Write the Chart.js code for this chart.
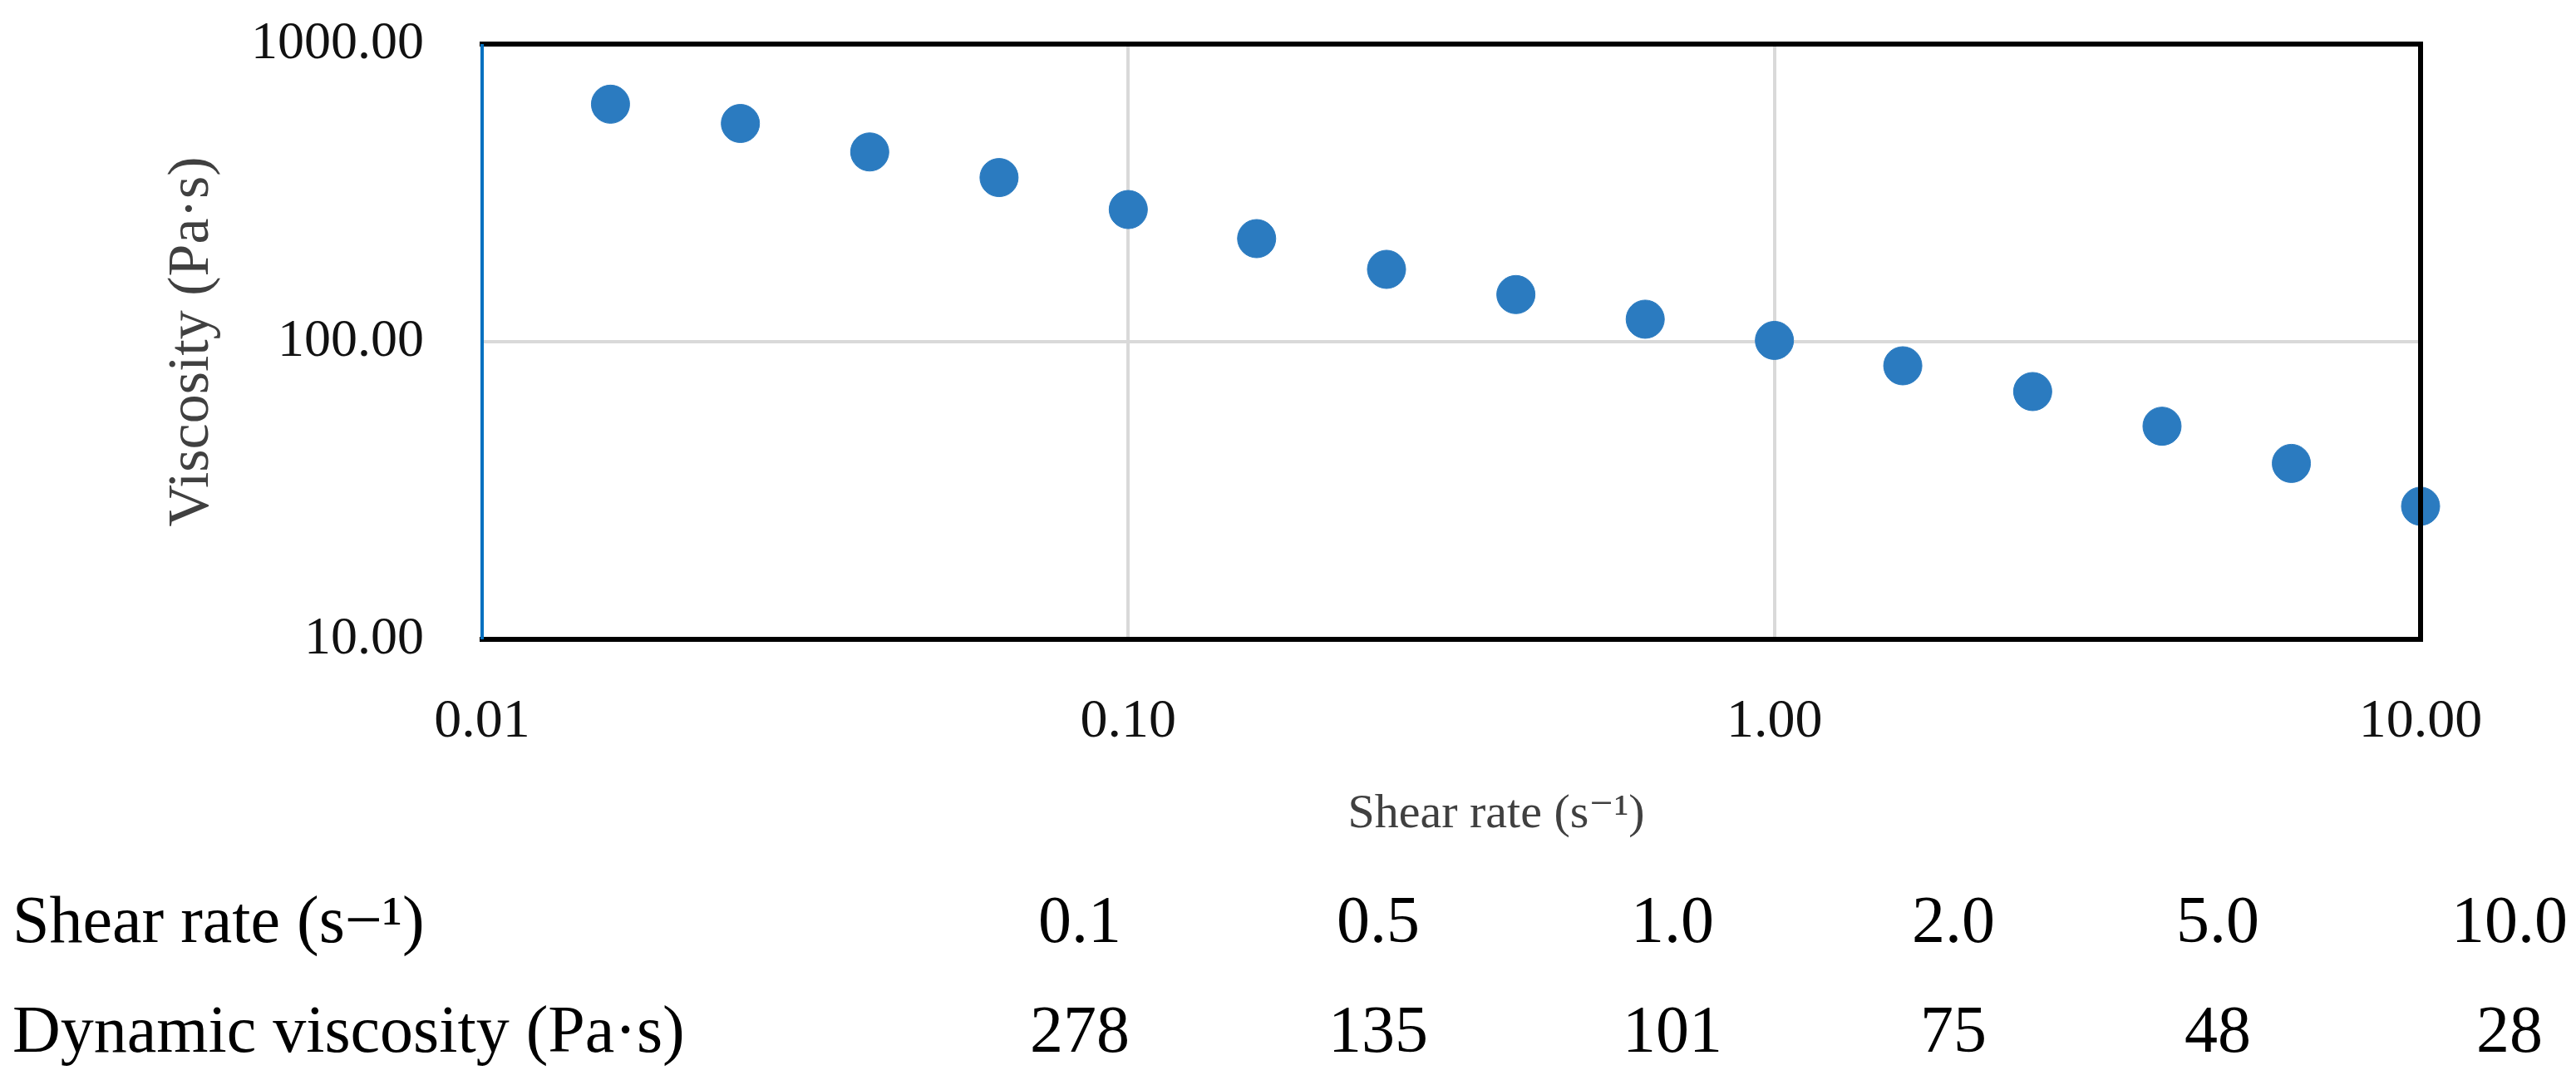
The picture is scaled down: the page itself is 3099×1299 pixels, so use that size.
<!DOCTYPE html>
<html>
<head>
<meta charset="utf-8">
<script src="https://cdn.jsdelivr.net/npm/chart.js@4.4.1/dist/chart.umd.min.js"></script>
<style>
  html, body { margin: 0; padding: 0; background: #fff; }
  #wrap { width: 3099px; height: 1299px; position: relative; }
</style>
</head>
<body>
<div id="wrap"><canvas id="chart"></canvas></div>
<script>
const shearRates = [0.0158, 0.0251, 0.0398, 0.0631, 0.1, 0.158, 0.251, 0.398, 0.631, 1, 1.58, 2.51, 3.98, 6.31, 10];
const viscosities = [628, 541, 434, 356, 278, 222, 175, 144, 119, 101, 83, 68, 52, 39, 28];

const xTicks = [0.01, 0.1, 1, 10];
const yTicks = [10, 100, 1000];

// table under the chart
const tableRates = ["0.1", "0.5", "1.0", "2.0", "5.0", "10.0"];
const tableViscosity = ["278", "135", "101", "75", "48", "28"];
const rowLabels = ["Shear rate (s\u2212\u00b9)", "Dynamic viscosity (Pa\u00b7s)"];
const xTitle = "Shear rate (s\u207b\u00b9)";

const serif = "'Liberation Serif', 'DejaVu Serif', serif";

const framePlugin = {
  id: "frame",
  afterDatasetsDraw(chart) {
    const { ctx, chartArea: a } = chart;
    ctx.save();
    ctx.lineCap = "square";
    ctx.strokeStyle = "#000";
    ctx.lineWidth = 6;
    ctx.beginPath();
    ctx.moveTo(a.left, a.top);
    ctx.lineTo(a.right, a.top);
    ctx.lineTo(a.right, a.bottom);
    ctx.lineTo(a.left, a.bottom);
    ctx.stroke();
    ctx.strokeStyle = "#0070c0";
    ctx.lineWidth = 4;
    ctx.lineCap = "butt";
    ctx.beginPath();
    ctx.moveTo(a.left, a.top);
    ctx.lineTo(a.left, a.bottom);
    ctx.stroke();
    ctx.restore();
  },
};

const tablePlugin = {
  id: "table",
  afterDraw(chart) {
    const ctx = chart.ctx;
    const colX = [1299, 1658, 2012, 2350, 2668, 3019];
    const rowY = [1133, 1265];
    ctx.save();
    // x axis title, sits a bit right of centre in the original
    ctx.fillStyle = "#404040";
    ctx.font = "58px " + serif;
    ctx.textAlign = "center";
    ctx.textBaseline = "middle";
    ctx.fillText(xTitle, 1800, 980);

    ctx.fillStyle = "#000";
    ctx.font = "80px " + serif;
    ctx.textBaseline = "alphabetic";
    ctx.textAlign = "left";
    rowLabels.forEach((t, i) => ctx.fillText(t, 15, rowY[i]));
    ctx.textAlign = "center";
    tableRates.forEach((t, i) => ctx.fillText(t, colX[i], rowY[0]));
    tableViscosity.forEach((t, i) => ctx.fillText(t, colX[i], rowY[1]));
    ctx.restore();
  },
};

new Chart(document.getElementById("chart"), {
  type: "scatter",
  data: {
    datasets: [
      {
        label: "Viscosity",
        data: shearRates.map((x, i) => ({ x, y: viscosities[i] })),
        backgroundColor: "#2b7bc0",
        borderColor: "#2b7bc0",
        pointRadius: 23,
        pointHoverRadius: 23,
        clip: false,
      },
    ],
  },
  options: {
    responsive: true,
    maintainAspectRatio: false,
    devicePixelRatio: 1,
    animation: false,
    layout: { padding: { top: 53, right: 187, bottom: 285, left: 0 } },
    plugins: { legend: { display: false }, tooltip: { enabled: false } },
    scales: {
      x: {
        type: "logarithmic",
        min: 0.01,
        max: 10,
        afterBuildTicks: (s) => { s.ticks = xTicks.map((v) => ({ value: v })); },
        afterFit: (s) => { s.height = 245; s.paddingLeft = 0; s.paddingRight = 0; },
        grid: { color: "#d9d9d9", lineWidth: 4, drawTicks: false },
        border: { display: false },
        ticks: {
          color: "#111",
          font: { family: serif, size: 66 },
          padding: 60,
          maxRotation: 0,
          callback: (v) => Number(v).toFixed(2),
        },
      },
      y: {
        type: "logarithmic",
        min: 10,
        max: 1000,
        afterBuildTicks: (s) => { s.ticks = yTicks.map((v) => ({ value: v })); },
        afterFit: (s) => { s.width = 580; s.paddingTop = 0; s.paddingBottom = 0; },
        grid: { color: "#d9d9d9", lineWidth: 4, drawTicks: false },
        border: { display: false },
        ticks: {
          color: "#111",
          font: { family: serif, size: 64 },
          padding: 70,
          callback: (v) => Number(v).toFixed(2),
        },
        title: {
          display: true,
          text: "Viscosity (Pa\u00b7s)",
          color: "#404040",
          font: { family: serif, size: 70 },
          padding: { top: 190, bottom: 0 },
        },
      },
    },
  },
  plugins: [framePlugin, tablePlugin],
});
</script>
</body>
</html>
